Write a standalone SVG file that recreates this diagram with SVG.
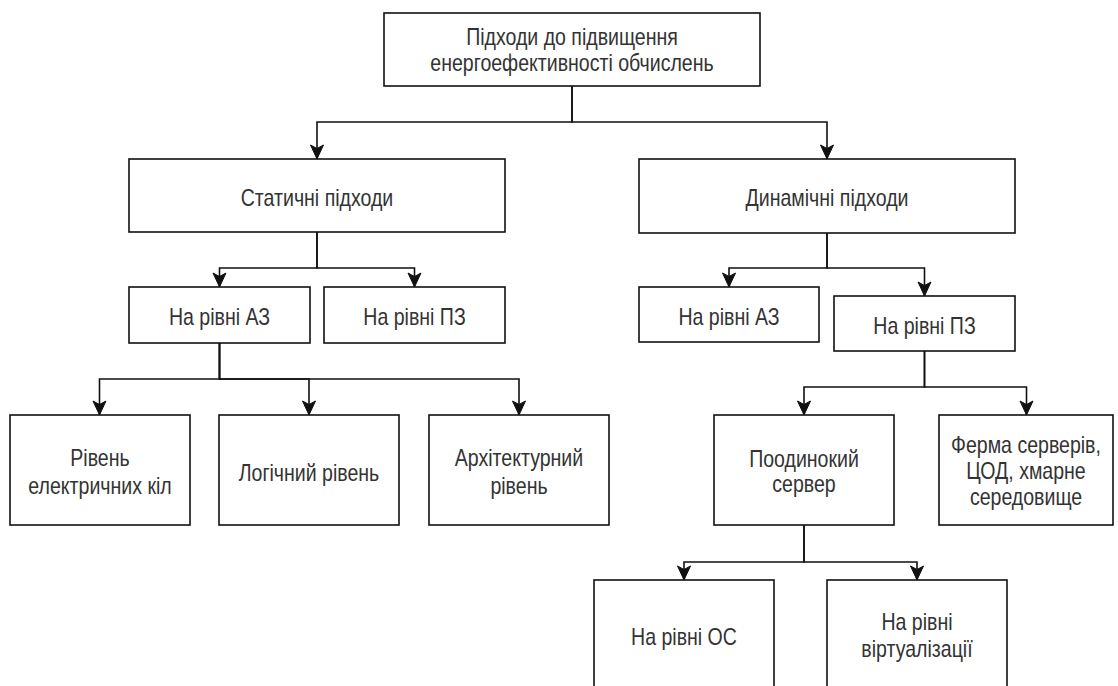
<svg xmlns="http://www.w3.org/2000/svg" width="1118" height="686" viewBox="0 0 1118 686">
  <style>
    .box { fill: #ffffff; stroke: #111111; stroke-width: 1.6; }
    .lbl { font-family: "Liberation Sans", Arial, sans-serif; font-size: 23px; fill: #333333; text-anchor: middle; }
    .edge { fill: none; stroke: #111111; stroke-width: 1.6; }
  </style>
  <defs>
    <marker id="arrow" viewBox="-15 -8 16 16" refX="0" refY="0" markerWidth="16" markerHeight="16" markerUnits="userSpaceOnUse" orient="auto">
      <path d="M0,0 L-14,-6.5 L-10.5,0 L-14,6.5 Z" fill="#111111" stroke="#111111" stroke-width="1" stroke-linejoin="miter"/>
    </marker>
  </defs>
  <rect width="1118" height="686" fill="#ffffff"/>

  <!-- connectors -->
  <g id="connectors">
    <path class="edge" d="M572,86 V122 H317 V159" marker-end="url(#arrow)"/>
    <path class="edge" d="M572,86 V122 H827 V159" marker-end="url(#arrow)"/>
    <path class="edge" d="M317,232 V268 H219.5 V287" marker-end="url(#arrow)"/>
    <path class="edge" d="M317,232 V268 H414.5 V287" marker-end="url(#arrow)"/>
    <path class="edge" d="M827,233 V268 H729 V287" marker-end="url(#arrow)"/>
    <path class="edge" d="M827,233 V268 H924.5 V296" marker-end="url(#arrow)"/>
    <path class="edge" d="M219.5,343 V379 H99.5 V415" marker-end="url(#arrow)"/>
    <path class="edge" d="M219.5,343 V379 H309 V415" marker-end="url(#arrow)"/>
    <path class="edge" d="M219.5,343 V379 H519 V415" marker-end="url(#arrow)"/>
    <path class="edge" d="M924.5,351 V387 H804 V415" marker-end="url(#arrow)"/>
    <path class="edge" d="M924.5,351 V387 H1026.5 V415" marker-end="url(#arrow)"/>
    <path class="edge" d="M804,525 V562 H684 V580" marker-end="url(#arrow)"/>
    <path class="edge" d="M804,525 V562 H917 V580" marker-end="url(#arrow)"/>
  </g>

  <!-- labels are set in a condensed face: horizontal scale 0.85 about each centre -->
  <g id="root">
    <rect class="box" x="384" y="13" width="376" height="73"/>
    <text class="lbl" transform="translate(572 45) scale(0.85 1)">Підходи до підвищення</text>
    <text class="lbl" transform="translate(572 71) scale(0.85 1)">енергоефективності обчислень</text>
  </g>

  <g id="static">
    <rect class="box" x="129" y="159" width="376" height="73"/>
    <text class="lbl" transform="translate(317 206) scale(0.85 1)">Статичні підходи</text>
  </g>

  <g id="dynamic">
    <rect class="box" x="639" y="159" width="376" height="74"/>
    <text class="lbl" transform="translate(827 206) scale(0.85 1)">Динамічні підходи</text>
  </g>

  <g id="static-hw">
    <rect class="box" x="129" y="287" width="181" height="56"/>
    <text class="lbl" transform="translate(219.5 325) scale(0.85 1)">На рівні АЗ</text>
  </g>

  <g id="static-sw">
    <rect class="box" x="324" y="287" width="181" height="56"/>
    <text class="lbl" transform="translate(414.5 325) scale(0.85 1)">На рівні ПЗ</text>
  </g>

  <g id="dynamic-hw">
    <rect class="box" x="639" y="287" width="180" height="55"/>
    <text class="lbl" transform="translate(729 325) scale(0.85 1)">На рівні АЗ</text>
  </g>

  <g id="dynamic-sw">
    <rect class="box" x="834" y="296" width="181" height="55"/>
    <text class="lbl" transform="translate(924.5 334) scale(0.85 1)">На рівні ПЗ</text>
  </g>

  <g id="circuit-level">
    <rect class="box" x="10" y="415" width="180" height="110"/>
    <text class="lbl" transform="translate(100 466) scale(0.85 1)">Рівень</text>
    <text class="lbl" transform="translate(100 494) scale(0.85 1)">електричних кіл</text>
  </g>

  <g id="logic-level">
    <rect class="box" x="219" y="415" width="180" height="110"/>
    <text class="lbl" transform="translate(309 481) scale(0.85 1)">Логічний рівень</text>
  </g>

  <g id="arch-level">
    <rect class="box" x="429" y="415" width="180" height="110"/>
    <text class="lbl" transform="translate(519 466) scale(0.85 1)">Архітектурний</text>
    <text class="lbl" transform="translate(519 494) scale(0.85 1)">рівень</text>
  </g>

  <g id="single-server">
    <rect class="box" x="714" y="415" width="180" height="110"/>
    <text class="lbl" transform="translate(804 467) scale(0.85 1)">Поодинокий</text>
    <text class="lbl" transform="translate(804 492) scale(0.85 1)">сервер</text>
  </g>

  <g id="server-farm">
    <rect class="box" x="939" y="415" width="174" height="110"/>
    <text class="lbl" transform="translate(1026 453) scale(0.85 1)">Ферма серверів,</text>
    <text class="lbl" transform="translate(1026 479) scale(0.85 1)">ЦОД, хмарне</text>
    <text class="lbl" transform="translate(1026 505) scale(0.85 1)">середовище</text>
  </g>

  <g id="os-level">
    <rect class="box" x="594" y="580" width="180" height="110"/>
    <text class="lbl" transform="translate(684 645) scale(0.85 1)">На рівні ОС</text>
  </g>

  <g id="virt-level">
    <rect class="box" x="827" y="580" width="180" height="110"/>
    <text class="lbl" transform="translate(917 630) scale(0.85 1)">На рівні</text>
    <text class="lbl" transform="translate(917 657) scale(0.85 1)">віртуалізації</text>
  </g>
</svg>
